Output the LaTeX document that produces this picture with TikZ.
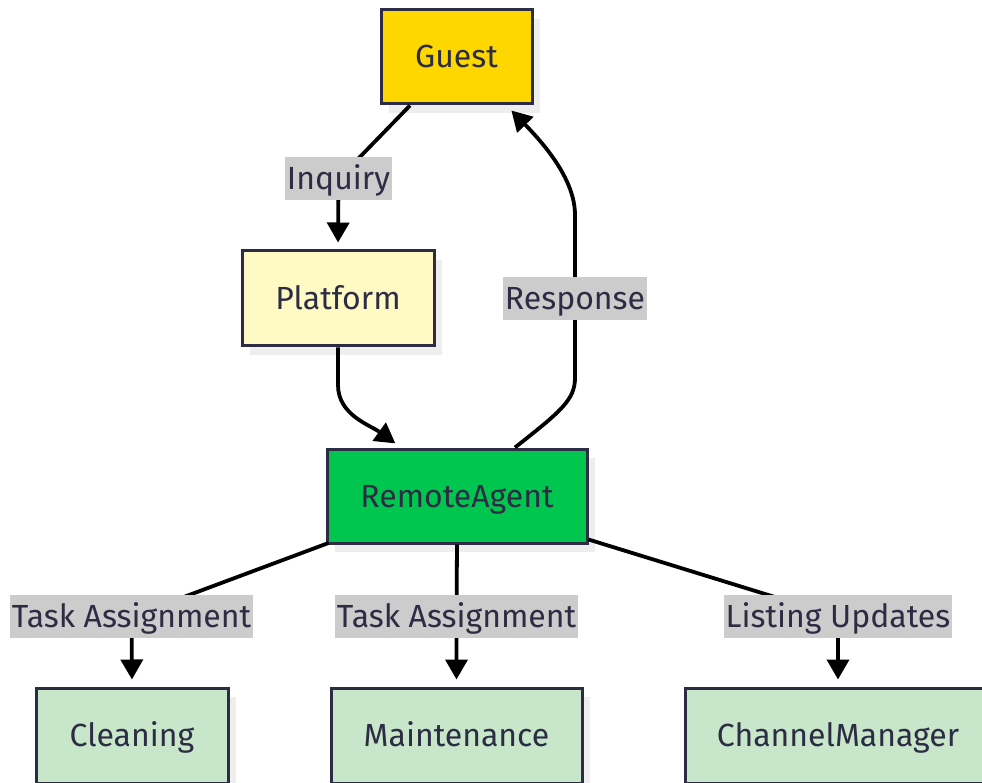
\documentclass[tikz,border=0pt]{standalone}
\usepackage{fontspec}
\setmainfont{Fira Sans}
\usetikzlibrary{arrows.meta,shadows}

\definecolor{ink}{RGB}{44,44,68}
\definecolor{guestfill}{RGB}{255,215,0}
\definecolor{platfill}{RGB}{255,249,196}
\definecolor{agentfill}{RGB}{0,198,80}
\definecolor{taskfill}{RGB}{200,230,201}
\definecolor{shadowgray}{RGB}{238,238,238}
\definecolor{lblgray}{RGB}{204,204,204}

\pgfdeclarelayer{boxes}
\pgfdeclarelayer{edges}
\pgfsetlayers{boxes,edges,main}

\begin{document}
\begin{tikzpicture}[x=1pt,y=1pt,
  txt/.style={text=ink, font=\fontsize{32}{36}\selectfont, text height=22pt, text depth=0pt},
  box/.style={txt, draw=ink, line width=3pt, inner sep=0pt,
    drop shadow={shadow xshift=8pt, shadow yshift=-9pt, fill=shadowgray, opacity=1}},
  lbl/.style={txt, fill=lblgray, inner xsep=2pt, inner ysep=0pt, minimum height=43pt},
  link/.style={line width=3.8pt, -{Triangle[length=20pt,width=22pt]}, shorten >=7pt}
]
\useasboundingbox (0,0) rectangle (982,-783);

% boxes
\begin{pgfonlayer}{boxes}
\node[box, fill=guestfill, minimum width=151pt, minimum height=94pt] (guest) at (456.5,-57) {Guest};
\node[box, fill=platfill, minimum width=192pt, minimum height=95pt] (plat) at (338,-298.5) {Platform};
\node[box, fill=agentfill, minimum width=260pt, minimum height=94pt] (agent) at (457,-496) {RemoteAgent};
\node[box, fill=taskfill, minimum width=192pt, minimum height=95pt] (clean) at (132,-735.5) {Cleaning};
\node[box, fill=taskfill, minimum width=251pt, minimum height=95pt] (maint) at (456.5,-735.5) {Maintenance};
\node[box, fill=taskfill, minimum width=306pt, minimum height=95pt] (chan) at (838,-735.5) {ChannelManager};
\end{pgfonlayer}

% edge labels
\node[lbl] (inq) at (338.5,-179) {Inquiry};
\node[lbl] (resp) at (575,-298.5) {Response};
\node[lbl] (task1) at (131.5,-616.5) {Task Assignment};
\node[lbl] (task2) at (456.5,-616.5) {Task Assignment};
\node[lbl] (list) at (838,-616.5) {Listing Updates};

% waypoints of the curved connectors
\coordinate (p1) at (338,-385);
\coordinate (r1) at (575,-378);
\coordinate (r2) at (575,-215);

% connectors
\begin{pgfonlayer}{edges}
\draw[link] ([xshift=-46.5pt]guest.south) -- (inq.center) -- (plat.north);
\draw[link] (plat.south) -- (p1) .. controls (338,-415) and (370,-425) .. ([xshift=-56pt]agent.north);
\draw[link] ([xshift=58pt]agent.north) .. controls (560,-412) and (575,-400) .. (r1) -- (r2)
  .. controls (575,-180) and (545,-145) .. ([xshift=50pt]guest.south);
\draw[link] ([xshift=3pt,yshift=1.5pt]agent.south west) -- (task1.center) -- (clean.north);
\draw[link] (agent.south) -- (task2.center) -- (maint.north);
\draw[link] ([yshift=5pt]agent.south east) -- (list.center) -- (chan.north);
\end{pgfonlayer}
\end{tikzpicture}
\end{document}
